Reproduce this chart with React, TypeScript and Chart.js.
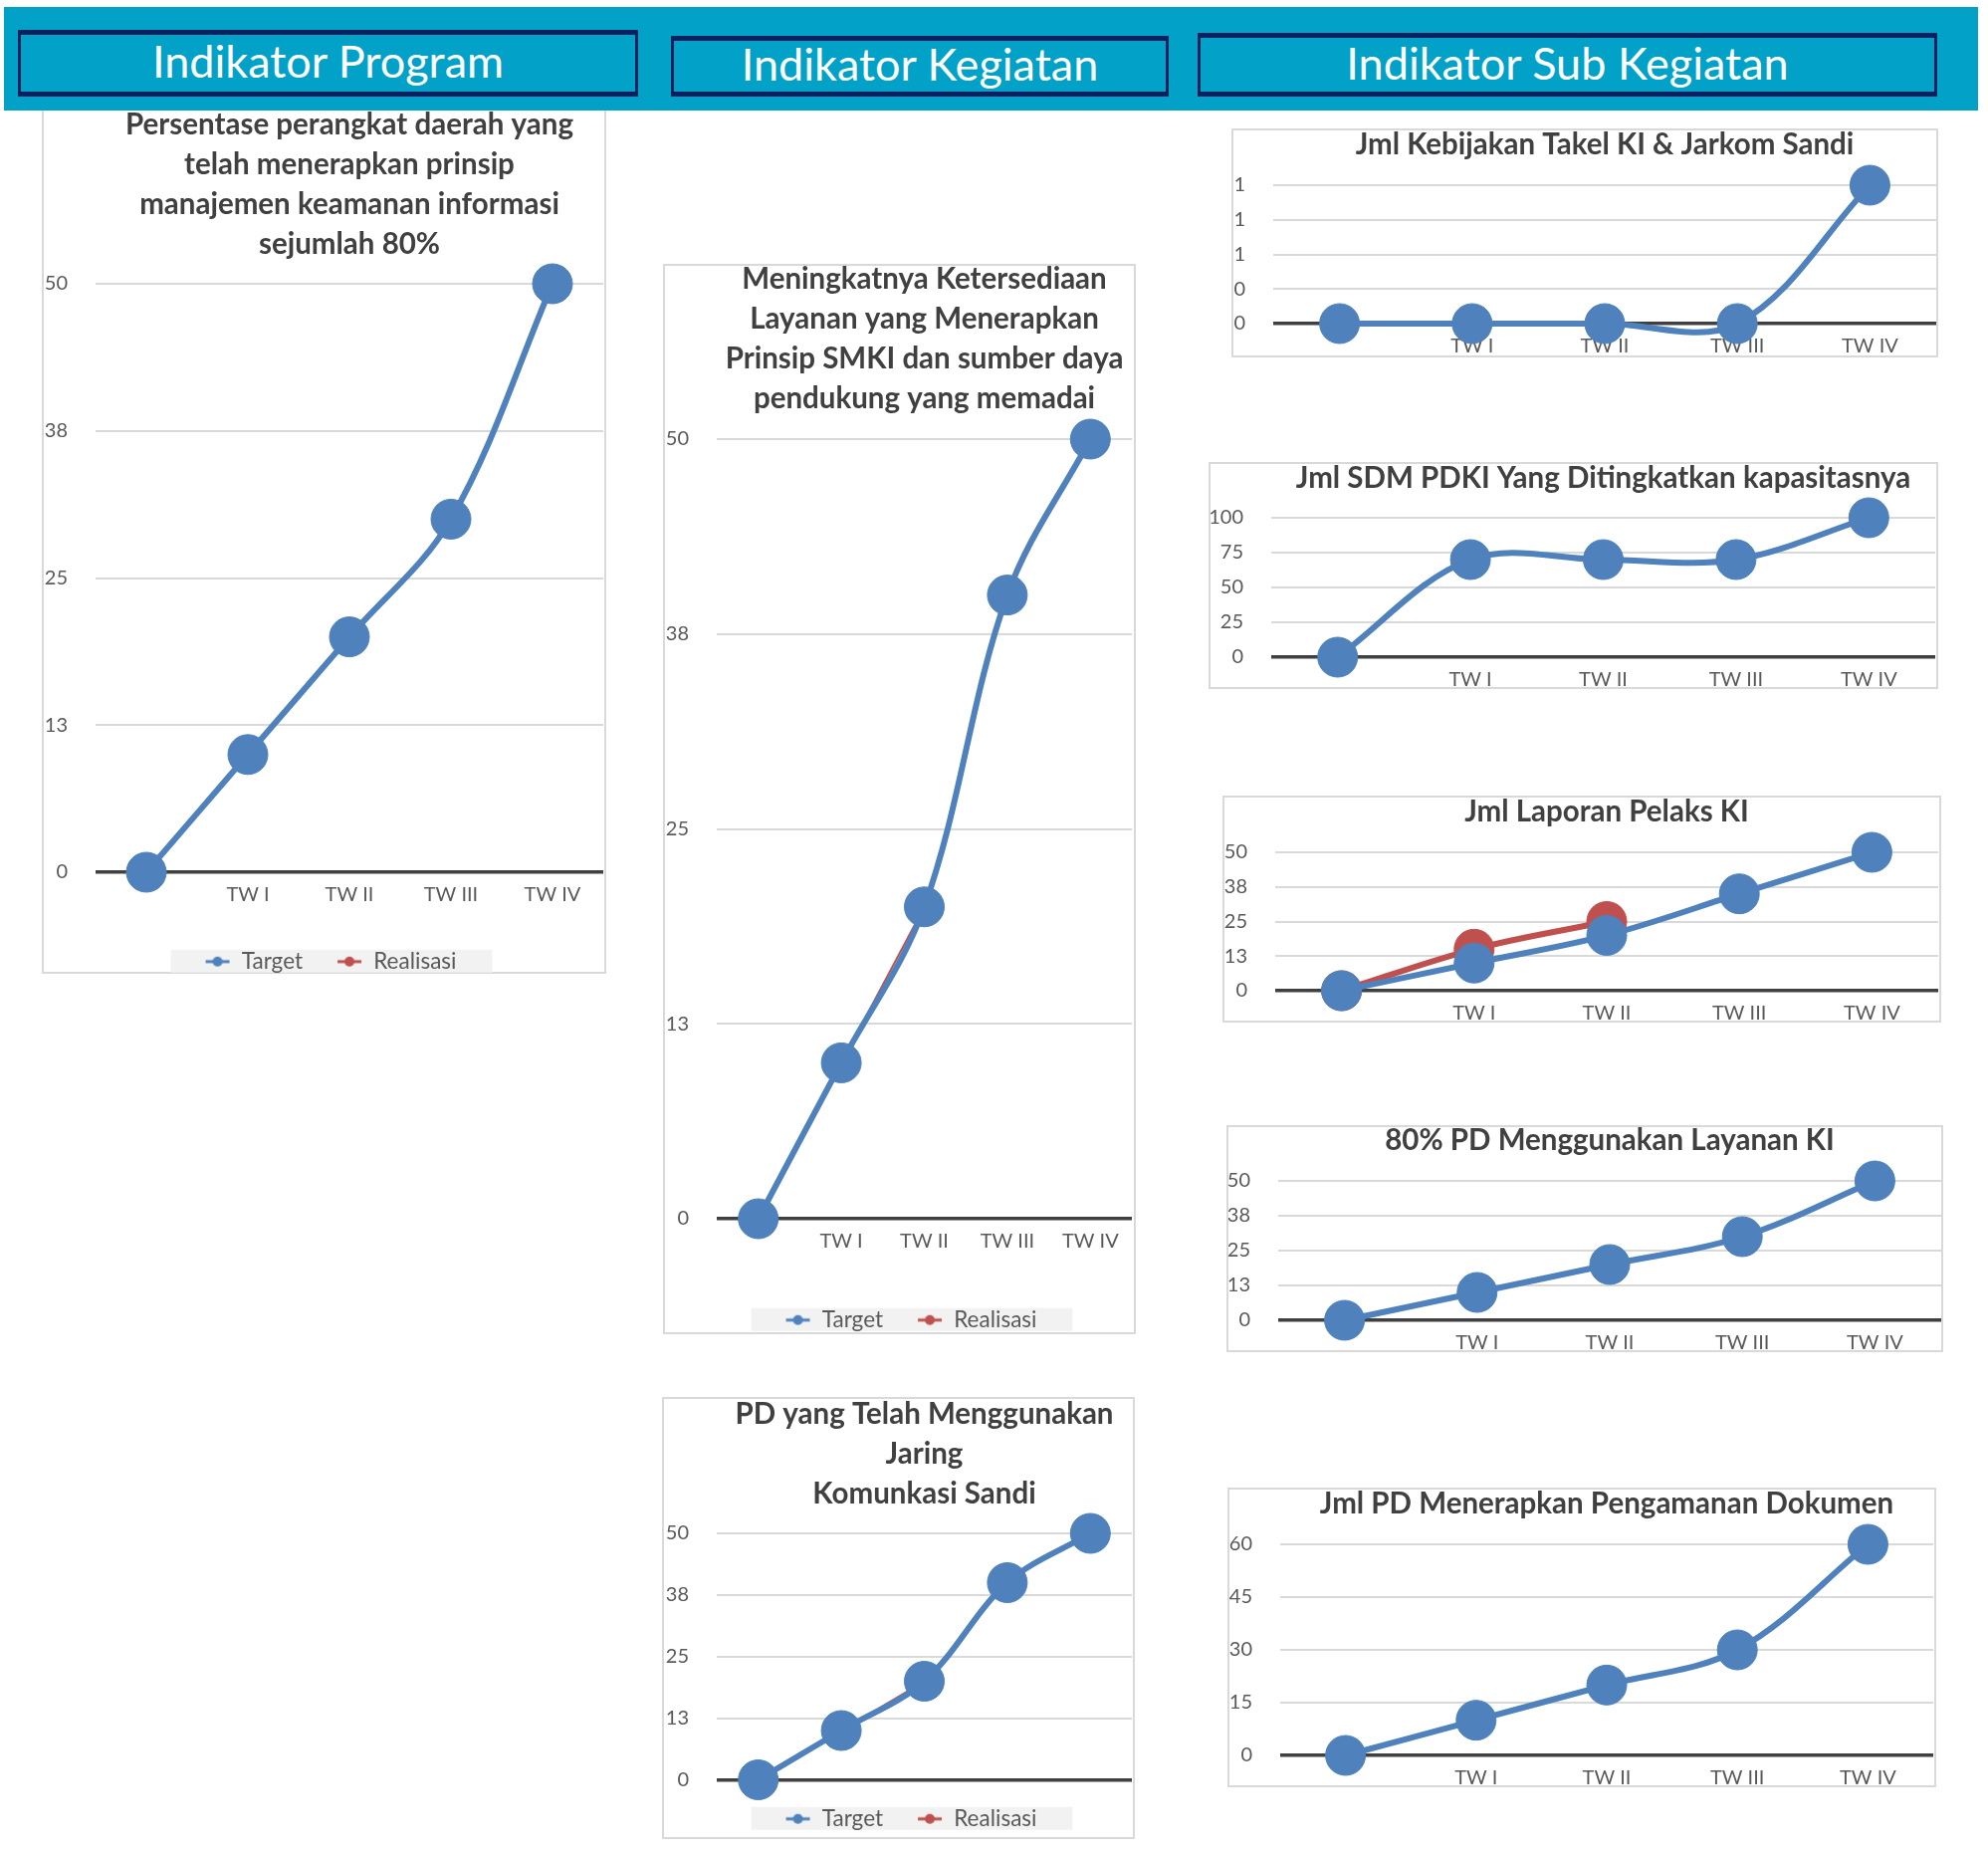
import React, { useEffect, useRef } from "react";
import { Chart, registerables } from "chart.js";
Chart.register(...registerables);

// ---------- data ----------
const categories = ["", "TW I", "TW II", "TW III", "TW IV"];
const headerLabels = ["Indikator Program", "Indikator Kegiatan", "Indikator Sub Kegiatan"];
const legendLabels = ["Target", "Realisasi"];

const programTitle = ["Persentase perangkat daerah yang", "telah menerapkan prinsip", "manajemen keamanan informasi", "sejumlah 80%"];
const programTarget = [0, 10, 20, 30, 50];
const programRealisasi: (number | null)[] = [];

const kegiatanTitle = ["Meningkatnya Ketersediaan", "Layanan yang Menerapkan", "Prinsip SMKI dan sumber daya", "pendukung yang memadai"];
const kegiatanTarget = [0, 10, 20, 40, 50];
const kegiatanRealisasi = [0, 10, 20];

const jaringTitle = ["PD yang Telah Menggunakan", "Jaring", "Komunkasi Sandi"];
const jaringTarget = [0, 10, 20, 40, 50];
const jaringRealisasi = [0, 10, 20];

const kebijakanTitle = ["Jml Kebijakan Takel KI & Jarkom Sandi"];
const kebijakanTarget = [0, 0, 0, 0, 1];

const sdmTitle = ["Jml SDM PDKI Yang Ditingkatkan kapasitasnya"];
const sdmTarget = [0, 70, 70, 70, 100];

const laporanTitle = ["Jml Laporan Pelaks KI"];
const laporanTarget = [0, 10, 20, 35, 50];
const laporanRealisasi = [0, 15, 25];

const layananTitle = ["80% PD Menggunakan Layanan KI"];
const layananTarget = [0, 10, 20, 30, 50];

const dokumenTitle = ["Jml PD Menerapkan Pengamanan Dokumen"];
const dokumenTarget = [0, 10, 20, 30, 60];

// ---------- style ----------
const FONT = "Lato, 'Noto Sans', sans-serif";
const BLUE = "#4F81BD";
const RED = "#C0504D";
const GRID = "#D9D9D9";
const AXIS = "#404040";
const TEXT = "#595959";
const TITLE = "#404040";
const LEGEND_FONT = 22.5;
const LEGEND_PAD = 34;
const LEGEND_H = LEGEND_FONT + LEGEND_PAD + 10;
const TITLE_LH = 40;
const TITLE_SIZE = 29.5;

type Spec = {
  key: string;
  title: string[];
  target: (number | null)[];
  realisasi: (number | null)[] | null;
  thickReal?: boolean;
  yMax: number;
  yStep: number;
  box: number[];
  area: number[];
  titleCenter: number;
  legendCenter?: number;
  legendCenterX?: number;
};

const specs: Spec[] = [
  { key: "A", title: programTitle, target: programTarget, realisasi: programRealisasi, yMax: 50, yStep: 12.5,
    box: [42, 100, 609, 978], area: [96, 285, 606, 876], titleCenter: 125, legendCenter: 967, legendCenterX: 332 },
  { key: "B", title: kegiatanTitle, target: kegiatanTarget, realisasi: kegiatanRealisasi, yMax: 50, yStep: 12.5,
    box: [666, 265, 1141, 1340], area: [720, 441, 1137, 1224], titleCenter: 280, legendCenter: 1327, legendCenterX: 915 },
  { key: "C", title: jaringTitle, target: jaringTarget, realisasi: jaringRealisasi, yMax: 50, yStep: 12.5,
    box: [665, 1403, 1140, 1847], area: [720, 1540, 1137, 1789], titleCenter: 1420, legendCenter: 1834, legendCenterX: 915 },
  { key: "D", title: kebijakanTitle, target: kebijakanTarget, realisasi: null, yMax: 1, yStep: 0.25,
    box: [1237, 129, 1947, 359], area: [1279, 186, 1945, 325], titleCenter: 145 },
  { key: "E", title: sdmTitle, target: sdmTarget, realisasi: null, yMax: 100, yStep: 25,
    box: [1214, 464, 1947, 692], area: [1277, 520, 1944, 660], titleCenter: 480 },
  { key: "F", title: laporanTitle, target: laporanTarget, realisasi: laporanRealisasi, thickReal: true, yMax: 50, yStep: 12.5,
    box: [1228, 799, 1950, 1027], area: [1281, 856, 1947, 995], titleCenter: 815 },
  { key: "G", title: layananTitle, target: layananTarget, realisasi: null, yMax: 50, yStep: 12.5,
    box: [1232, 1130, 1952, 1358], area: [1284, 1186, 1950, 1326], titleCenter: 1145 },
  { key: "H", title: dokumenTitle, target: dokumenTarget, realisasi: null, yMax: 60, yStep: 15,
    box: [1233, 1494, 1945, 1795], area: [1286, 1551, 1942, 1763], titleCenter: 1510 },
];

function legendMarker(color: string) {
  const c = document.createElement("canvas");
  c.width = 26;
  c.height = 12;
  const g = c.getContext("2d")!;
  g.strokeStyle = color;
  g.lineWidth = 3;
  g.beginPath();
  g.moveTo(1, 6);
  g.lineTo(25, 6);
  g.stroke();
  g.fillStyle = color;
  g.beginPath();
  g.arc(13, 6, 5, 0, Math.PI * 2);
  g.fill();
  return c;
}

// shifts the legend box horizontally after layout
const legendShiftPlugin = {
  id: "legendShift",
  afterLayout(chart: any, _args: any, opts: any) {
    const lg = chart.legend;
    if (lg && opts && opts.dx) {
      lg.left += opts.dx;
      lg.right += opts.dx;
    }
  },
};

const legendBgPlugin = {
  id: "legendBg",
  beforeDraw(chart: any) {
    const lg = chart.legend;
    if (!lg || !lg.options.display || !lg.legendHitBoxes || !lg.legendHitBoxes.length) return;
    const hb = lg.legendHitBoxes;
    const minX = Math.min(...hb.map((h: any) => h.left));
    const maxX = Math.max(...hb.map((h: any) => h.left + h.width));
    const cy = hb[0].top + hb[0].height / 2;
    const ctx = chart.ctx;
    ctx.save();
    ctx.fillStyle = "#F2F2F2";
    ctx.fillRect(minX - 34, cy - 12, maxX - minX + 70, 23);
    ctx.restore();
  },
};

function ChartPanel({ spec }: { spec: Spec }) {
  const ref = useRef<HTMLCanvasElement>(null);
  const [L, T, R, B] = spec.box;
  const [cl, ct, cr, cb] = spec.area;
  const cvL = L + 2;
  const cvR = R - 2;
  const cvT = T - 10;
  const cvB = spec.legendCenter ? spec.legendCenter + 20 : B - 2;
  const width = cvR - cvL;
  const height = cvB - cvT;

  useEffect(() => {
    const n = spec.title.length;
    const padTop = spec.titleCenter - cvT - TITLE_LH / 2;
    const dx = spec.legendCenterX ? spec.legendCenterX - (cvL + cr) / 2 : 0;
    const geo = {
      padBottom: ct - cvT - padTop - n * TITLE_LH,
      yW: cl - cvL,
      pr: cvR - cr,
      xH: spec.legendCenter ? cvB - LEGEND_H - cb : cvB - cb,
    };
    const hasLegend = !!spec.legendCenter;

    const datasets: any[] = [
      {
        label: legendLabels[0],
        data: spec.target,
        borderColor: BLUE,
        backgroundColor: BLUE,
        borderWidth: 6,
        pointRadius: 20,
        pointHoverRadius: 20,
        pointBorderWidth: 1,
        pointBackgroundColor: BLUE,
        pointBorderColor: BLUE,
        tension: 0.35,
        clip: false,
      },
    ];
    if (spec.realisasi) {
      const thick = !!spec.thickReal;
      datasets.push({
        label: legendLabels[1],
        data: spec.realisasi,
        borderColor: RED,
        backgroundColor: RED,
        borderWidth: thick ? 6 : 2,
        pointRadius: thick ? 20 : 0,
        pointHoverRadius: thick ? 20 : 0,
        pointBorderWidth: 1,
        pointBackgroundColor: RED,
        pointBorderColor: RED,
        tension: thick ? 0.35 : 0,
        clip: false,
      });
    }

    const chart = new Chart(ref.current!, {
      type: "line",
      data: { labels: categories, datasets },
      plugins: [legendShiftPlugin, legendBgPlugin],
      options: {
        animation: false,
        responsive: false,
        maintainAspectRatio: false,
        devicePixelRatio: 1,
        layout: { autoPadding: false, padding: { left: 0, right: geo.pr, top: 0, bottom: 0 } },
        elements: { line: { capBezierPoints: false } },
        plugins: {
          tooltip: { enabled: false },
          legendShift: { dx },
          title: {
            display: true,
            text: spec.title,
            fullSize: false,
            color: TITLE,
            font: { family: FONT, size: TITLE_SIZE, weight: "bold", lineHeight: TITLE_LH / TITLE_SIZE },
            padding: { top: padTop, bottom: geo.padBottom },
          },
          legend: hasLegend
            ? {
                display: true,
                position: "bottom",
                labels: {
                  usePointStyle: true,
                  pointStyleWidth: 26,
                  padding: LEGEND_PAD,
                  color: TEXT,
                  font: { family: FONT, size: LEGEND_FONT },
                  generateLabels: (c: any) =>
                    c.data.datasets.map((ds: any, i: number) => ({
                      text: ds.label,
                      pointStyle: legendMarker(ds.borderColor),
                      fillStyle: ds.borderColor,
                      strokeStyle: ds.borderColor,
                      lineWidth: 0,
                      hidden: false,
                      datasetIndex: i,
                      fontColor: TEXT,
                    })),
                },
              }
            : { display: false },
        },
        scales: {
          x: {
            type: "category",
            offset: true,
            grid: { display: false, drawTicks: false },
            border: { display: false },
            ticks: { color: TEXT, font: { family: FONT, size: 20 }, padding: 11, maxRotation: 0, autoSkip: false },
            afterFit: (s: any) => {
              s.height = geo.xH;
              s.paddingLeft = 0;
              s.paddingRight = 0;
              s.paddingTop = 0;
              s.paddingBottom = 0;
            },
          },
          y: {
            min: 0,
            max: spec.yMax,
            grid: {
              color: (c: any) => (c.tick && c.tick.value === 0 ? AXIS : GRID),
              lineWidth: (c: any) => (c.tick && c.tick.value === 0 ? 3.5 : 2),
              drawTicks: false,
            },
            border: { display: false },
            ticks: {
              stepSize: spec.yStep,
              padding: 28,
              color: TEXT,
              font: { family: FONT, size: 20 },
              callback: (v: any) => String(Math.round(Number(v))),
            },
            afterFit: (s: any) => {
              s.width = geo.yW;
              s.paddingTop = 0;
              s.paddingBottom = 0;
            },
          },
        },
      } as any,
    });

    // align the plot area with the target rectangle
    const want = { left: cl - cvL, right: cr - cvL, top: ct - cvT, bottom: cb - cvT };
    for (let k = 0; k < 3; k++) {
      const a = chart.chartArea;
      const dl = want.left - a.left;
      const dr = a.right - want.right;
      const dt = want.top - a.top;
      const db = a.bottom - want.bottom;
      if (Math.abs(dl) < 0.5 && Math.abs(dr) < 0.5 && Math.abs(dt) < 0.5 && Math.abs(db) < 0.5) break;
      geo.yW += dl;
      geo.pr = Math.max(0, geo.pr + dr);
      geo.padBottom += dt;
      geo.xH += db;
      (chart.options as any).layout.padding = { left: 0, right: geo.pr, top: 0, bottom: 0 };
      (chart.options as any).plugins.title.padding = { top: padTop, bottom: geo.padBottom };
      chart.update();
    }
    return () => chart.destroy();
  }, []);

  return (
    <>
      <div
        style={{
          position: "absolute",
          left: L,
          top: T,
          width: R - L,
          height: B - T,
          boxSizing: "border-box",
          border: "2px solid #D9D9D9",
          background: "#FFFFFF",
        }}
      />
      <canvas
        ref={ref}
        width={width}
        height={height}
        style={{ position: "absolute", left: cvL, top: cvT, width, height }}
      />
    </>
  );
}

const headerBoxes = [
  { label: headerLabels[0], rect: [18, 30, 641, 97] },
  { label: headerLabels[1], rect: [674, 36, 1174, 97] },
  { label: headerLabels[2], rect: [1203, 33, 1946, 97] },
];

function Header() {
  return (
    <div
      style={{
        position: "absolute",
        left: 4,
        top: 7,
        width: 1983,
        height: 104,
        background: "#02A1C7",
        zIndex: 10,
      }}
    >
      {headerBoxes.map((h) => (
        <div
          key={h.label}
          style={{
            position: "absolute",
            left: h.rect[0] - 4,
            top: h.rect[1] - 7,
            width: h.rect[2] - h.rect[0],
            height: h.rect[3] - h.rect[1],
            boxSizing: "border-box",
            borderStyle: "solid",
            borderColor: "#0B215F",
            borderWidth: "5px 3px 5px 3px",
            background: "#02A1C7",
            color: "#FFFFFF",
            fontFamily: FONT,
            fontSize: 45,
            display: "flex",
            alignItems: "center",
            justifyContent: "center",
            lineHeight: 1,
            paddingBottom: 4,
            whiteSpace: "nowrap",
          }}
        >
          {h.label}
        </div>
      ))}
    </div>
  );
}

export default function App() {
  return (
    <div
      style={{
        position: "absolute",
        left: 0,
        top: 0,
        width: 1997,
        height: 1859,
        background: "#FFFFFF",
        overflow: "hidden",
      }}
    >
      {specs.map((s) => (
        <ChartPanel key={s.key} spec={s} />
      ))}
      <Header />
    </div>
  );
}
